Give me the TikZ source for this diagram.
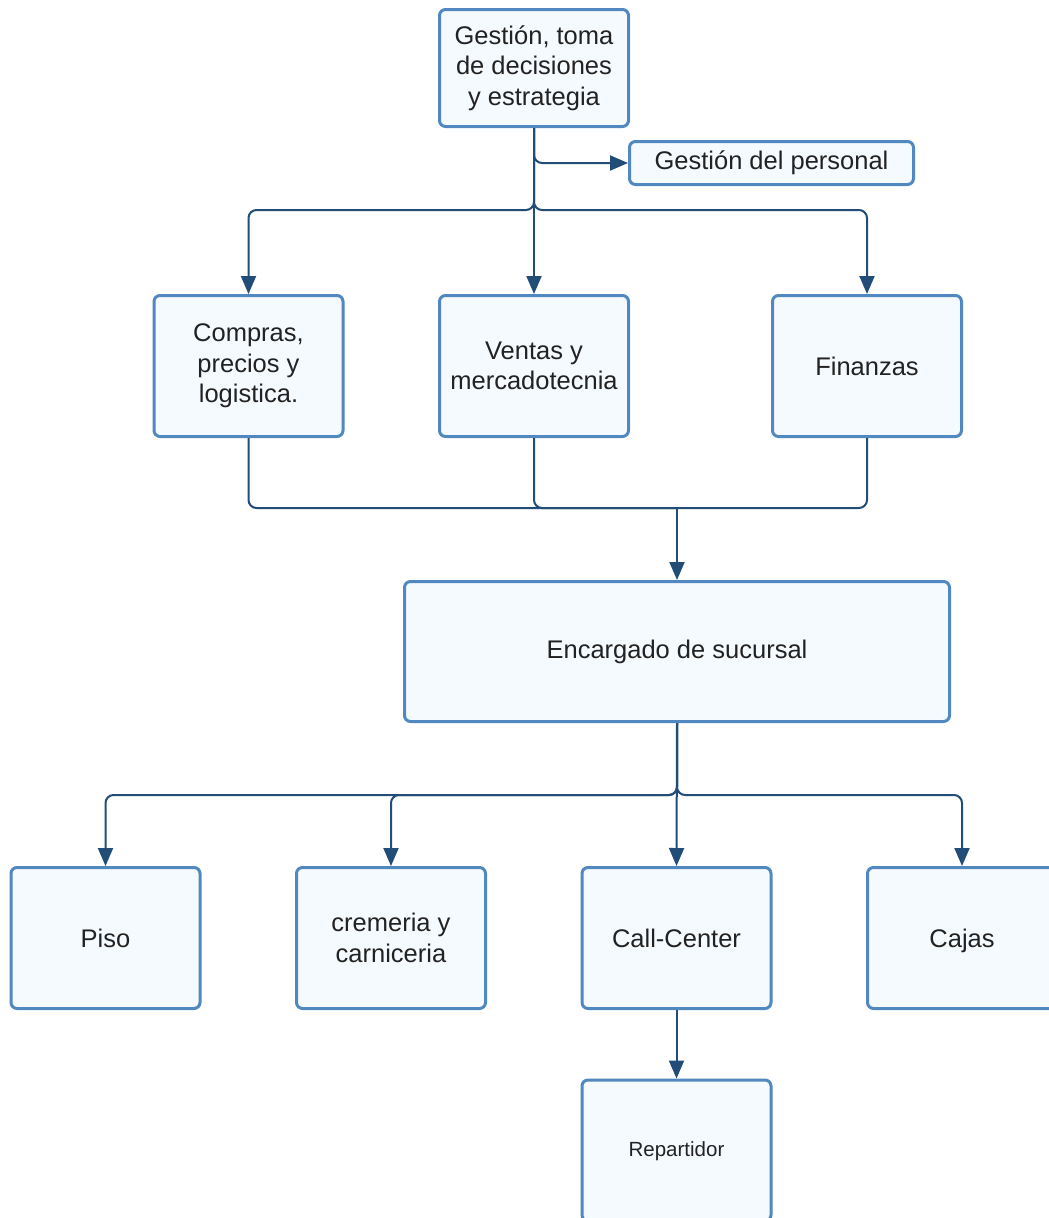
\documentclass[tikz,border=0pt]{standalone}
\usepackage{fontspec}
\setmainfont{Liberation Sans}
\usetikzlibrary{arrows.meta}
\definecolor{boxc}{HTML}{5088BF}
\definecolor{fillc}{HTML}{F5FAFF}
\definecolor{linec}{HTML}{214D78}
\definecolor{txtc}{HTML}{222222}
\tikzset{
  box/.style={draw=boxc, fill=fillc, line width=3pt, rounded corners=6pt, align=center,
    text=txtc, font=\fontsize{25.5}{30.5}\selectfont, inner sep=0pt,
    minimum width=189pt, minimum height=141pt},
  conn/.style={draw=linec, line width=2pt, rounded corners=8pt,
    -{Triangle[length=18pt,width=15pt]}},
  plain/.style={draw=linec, line width=2pt, rounded corners=8pt}
}
\begin{document}
\begin{tikzpicture}[x=1pt,y=-1pt]
\clip (0,0) rectangle (1049,1218);
\fill[white] (0,0) rectangle (1049,1218);
% nodes
\node[box, minimum height=117pt] (top) at (534,68) {Gestión, toma\\de decisiones\\y estrategia};
\node[box, minimum width=284pt, minimum height=43pt] (pers) at (771.5,163) {Gestión del personal};
\node[box] (comp) at (248.5,366) {Compras,\\precios y\\logistica.};
\node[box] (vent) at (534,366) {Ventas y\\mercadotecnia};
\node[box] (fin) at (867,366) {Finanzas};
\node[box, minimum width=545pt, minimum height=140pt] (enc) at (677,651.5) {Encargado de sucursal};
\node[box] (piso) at (105.5,938) {Piso};
\node[box] (crem) at (391,938) {cremeria y\\carniceria};
\node[box] (call) at (676.5,938) {Call-Center};
\node[box, text depth=0pt] (cajas) at (962,938) {Cajas};
\node[box, font=\fontsize{20.5}{24}\selectfont, minimum height=141pt, text depth=0pt] (rep) at (676.5,1150.5) {\raisebox{3pt}{Repartidor}};
% junctions
\coordinate (j1) at (534,210);
\coordinate (j2) at (677,508);
\coordinate (j3) at (677,795);
% connectors top
\draw[conn] (top.south) |- (pers.west);
\draw[conn] (top.south) -- (vent.north);
\draw[conn] (top.south) -- (j1) -| (comp.north);
\draw[conn] (top.south) -- (j1) -| (fin.north);
% connectors middle
\draw[plain] (comp.south) |- (j2);
\draw[plain] (vent.south) |- (j2);
\draw[plain] (fin.south) |- (j2);
\draw[conn] (j2) -- (enc.north);
% connectors bottom
\draw[conn] (enc.south) -- (call.north);
\draw[conn] (enc.south) -- (j3) -| (piso.north);
\draw[conn] (enc.south) -- (j3) -| (crem.north);
\draw[conn] (enc.south) -- (j3) -| (cajas.north);
\draw[conn] (call.south) -- (rep.north);
\end{tikzpicture}
\end{document}
